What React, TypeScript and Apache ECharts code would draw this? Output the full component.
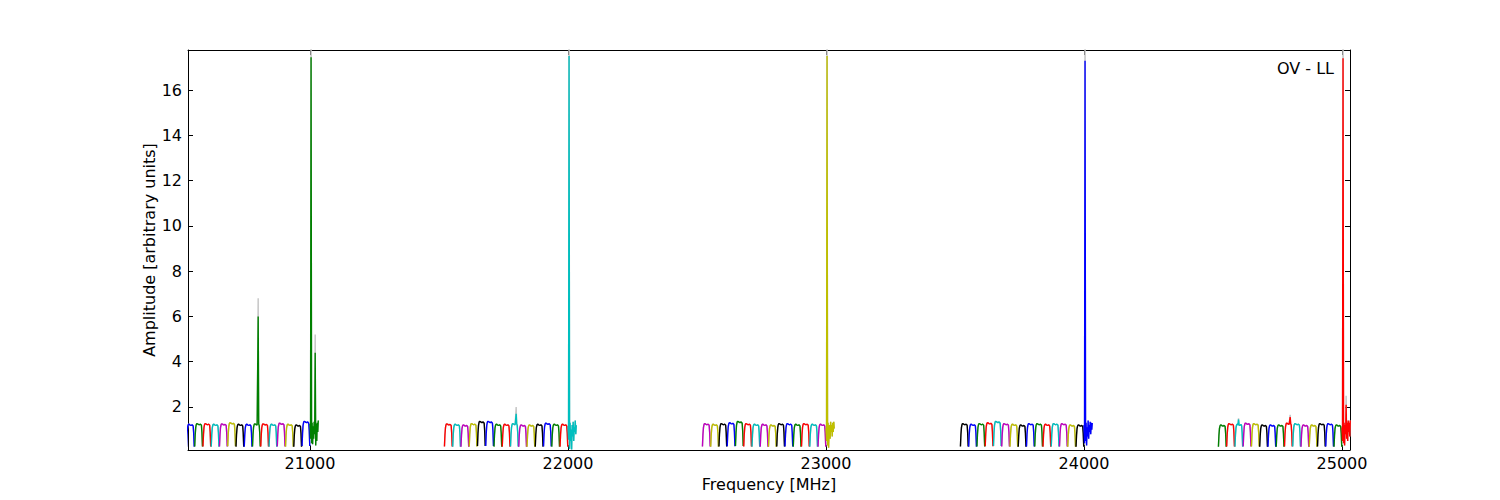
import React, { useEffect, useRef } from "react";
import * as echarts from "echarts";

// Classic matplotlib colour cycle b, g, r, c, m, y, k
const COLORS = ["#0000ff", "#008000", "#ff0000", "#00bfbf", "#bf00bf", "#bfbf00", "#000000"];

const X_TICKS = [21000, 22000, 23000, 24000, 25000];
const Y_TICKS = [2, 4, 6, 8, 10, 12, 14, 16];

// Start frequency [MHz] of each group of 16 subbands (32 MHz each)
const GROUP_STARTS = [20520, 21520, 22520, 23520, 24520];
const SUBBAND_WIDTH = 32;

// Normalised bandpass shape of one subband (16 channels)
const BANDPASS = [0.2, 0.62, 0.86, 0.95, 0.99, 1.0, 0.98, 0.96, 0.95, 0.95, 0.96, 0.97, 0.98, 0.93, 0.68, 0.2];

// Peak amplitude of the 15 regular subbands of each group
const PEAKS_21000 = [1.25, 1.28, 1.28, 1.25, 1.27, 1.32, 1.25, 1.25, 1.27, 1.27, 1.25, 1.3, 1.25, 1.22, 1.38];
const PEAKS_22000 = [1.27, 1.25, 1.22, 1.28, 1.38, 1.38, 1.25, 1.25, 1.28, 1.22, 1.22, 1.25, 1.3, 1.25, 1.25];
const PEAKS_23000 = [1.28, 1.25, 1.28, 1.32, 1.38, 1.28, 1.25, 1.25, 1.22, 1.28, 1.28, 1.25, 1.28, 1.25, 1.25];
const PEAKS_24000 = [1.28, 1.25, 1.28, 1.32, 1.38, 1.28, 1.25, 1.22, 1.28, 1.28, 1.25, 1.28, 1.28, 1.22, 1.22];
const PEAKS_25000 = [1.22, 1.28, 1.25, 1.3, 1.28, 1.22, 1.22, 1.22, 1.3, 1.28, 1.22, 1.22, 1.28, 1.28, 1.22];
const GROUP_PEAKS = [PEAKS_21000, PEAKS_22000, PEAKS_23000, PEAKS_24000, PEAKS_25000];

// Last subband of each group (2 MHz channels, noisy, holds the test tone)
const NOISY_21000 = [1.25, 0.6, 1.0, 0.4, 1.3, 0.35, 1.15, 0.6, 1.35, 0.8, 1.0, 0.3, 1.25, 0.5, 1.3, 0.9, 1.4];
const NOISY_22000 = [1.15, 0.55, 1.0, 0.15, 1.3, 0.5, 1.0, 0.12, 1.2, 0.7, 1.35, 0.5, 1.1, 0.9, 1.4, 0.8, 1.2];
const NOISY_23000 = [1.05, 0.5, 1.0, 0.3, 1.3, 0.2, 0.9, 1.2, 0.6, 1.35, 0.9, 1.2, 0.7, 1.3, 0.9, 1.35, 1.05];
const NOISY_24000 = [1.2, 0.4, 1.0, 0.5, 1.3, 0.3, 1.1, 0.7, 1.4, 0.6, 1.2, 0.9, 1.35, 0.8, 1.3, 1.0, 1.3];
const NOISY_25000 = [1.1, 0.5, 1.0, 0.4, 1.3, 0.3, 1.2, 0.8, 1.0, 0.6, 1.3, 0.5, 1.4, 0.9, 1.3, 0.7, 1.4];
const GROUP_NOISY = [NOISY_21000, NOISY_22000, NOISY_23000, NOISY_24000, NOISY_25000];

// Narrow lines: frequency, amplitude (mean), amplitude (max, grey trace)
const RFI_FREQ = [20800, 21004, 21020, 21800, 22004, 23004, 24004, 24600, 24800, 25004, 25016];
const RFI_MEAN = [6.0, 17.45, 4.4, 1.7, 17.5, 17.5, 17.3, 1.45, 1.55, 17.4, 2.1];
const RFI_MAX = [6.8, 19.5, 5.2, 2.0, 19.5, 19.5, 19.5, 1.5, 1.65, 19.5, 2.5];

const FONT = "DejaVu Sans";

function buildSeries() {
  const grey: any[] = [];
  const coloured: any[] = [];
  GROUP_STARTS.forEach((gStart, g) => {
    for (let j = 0; j < 16; j++) {
      const k = g * 16 + j;
      const start = gStart + j * SUBBAND_WIDTH;
      let xs: number[];
      let ys: number[];
      if (j < 15) {
        xs = BANDPASS.map((_, i) => start + 1 + 2 * i);
        ys = BANDPASS.map((s) => s * GROUP_PEAKS[g][j]);
      } else {
        xs = GROUP_NOISY[g].map((_, i) => start + 2 * i);
        ys = GROUP_NOISY[g].slice();
      }
      const gs = ys.slice();
      RFI_FREQ.forEach((f, r) => {
        if (f >= start && f < start + SUBBAND_WIDTH) {
          let best = 0;
          xs.forEach((x, i) => {
            if (Math.abs(x - f) < Math.abs(xs[best] - f)) best = i;
          });
          ys[best] = RFI_MEAN[r];
          gs[best] = RFI_MAX[r];
        }
      });
      const common = {
        type: "line",
        showSymbol: false,
        symbol: "none",
        silent: true,
        clip: true,
        animation: false,
      };
      grey.push({
        ...common,
        data: xs.map((x, i) => [x, gs[i]]),
        lineStyle: { color: "#c4c4c4", width: 1.4 },
        itemStyle: { color: "#c4c4c4" },
        z: 1,
      });
      coloured.push({
        ...common,
        data: xs.map((x, i) => [x, ys[i]]),
        lineStyle: { color: COLORS[k % 7], width: 1.4 },
        itemStyle: { color: COLORS[k % 7] },
        z: 2,
      });
    }
  });
  return [...grey, ...coloured];
}

export default function App() {
  const ref = useRef<HTMLDivElement>(null);
  useEffect(() => {
    if (!ref.current) return;
    const chart = echarts.init(ref.current, undefined, { renderer: "svg" });
    const txt = { color: "#000", fontFamily: FONT, fontSize: 16 };
    const lineStyle = { color: "#000", width: 1 };
    chart.setOption({
      animation: false,
      backgroundColor: "#fff",
      grid: { left: 188, top: 50, width: 1162, height: 400, containLabel: false },
      xAxis: [
        {
          type: "value",
          position: "bottom",
          min: 20527,
          max: 25031,
          axisLine: { show: true, onZero: false, lineStyle },
          axisTick: { show: true, inside: true, length: 5, customValues: X_TICKS, lineStyle },
          axisLabel: { ...txt, margin: 5, customValues: X_TICKS, formatter: (v: number) => String(v) },
          splitLine: { show: false },
          name: "Frequency [MHz]",
          nameLocation: "middle",
          nameGap: 26,
          nameMoveOverlap: false,
          nameTextStyle: txt,
        },
        {
          type: "value",
          position: "top",
          min: 20527,
          max: 25031,
          axisLine: { show: true, onZero: false, lineStyle },
          axisTick: { show: true, inside: true, length: 5, customValues: X_TICKS, lineStyle },
          axisLabel: { show: false },
          splitLine: { show: false },
        },
      ],
      yAxis: [
        {
          type: "value",
          position: "left",
          min: 0.1,
          max: 17.77,
          axisLine: { show: true, onZero: false, lineStyle },
          axisTick: { show: true, inside: true, length: 5, customValues: Y_TICKS, lineStyle },
          axisLabel: { ...txt, margin: 6, customValues: Y_TICKS, formatter: (v: number) => String(v) },
          splitLine: { show: false },
          name: "Amplitude [arbitrary units]",
          nameLocation: "middle",
          nameRotate: 90,
          nameGap: 31,
          nameMoveOverlap: false,
          nameTextStyle: txt,
        },
        {
          type: "value",
          position: "right",
          min: 0.1,
          max: 17.77,
          axisLine: { show: true, onZero: false, lineStyle },
          axisTick: { show: true, inside: true, length: 5, customValues: Y_TICKS, lineStyle },
          axisLabel: { show: false },
          splitLine: { show: false },
        },
      ],
      graphic: [
        {
          type: "text",
          right: 166,
          top: 60,
          style: { text: "OV - LL", fill: "#000", font: `16px "${FONT}"` },
        },
      ],
      series: buildSeries(),
    });
    return () => chart.dispose();
  }, []);
  return (
    <div
      ref={ref}
      style={{ position: "absolute", left: 0, top: 0, width: 1500, height: 500 }}
    />
  );
}
